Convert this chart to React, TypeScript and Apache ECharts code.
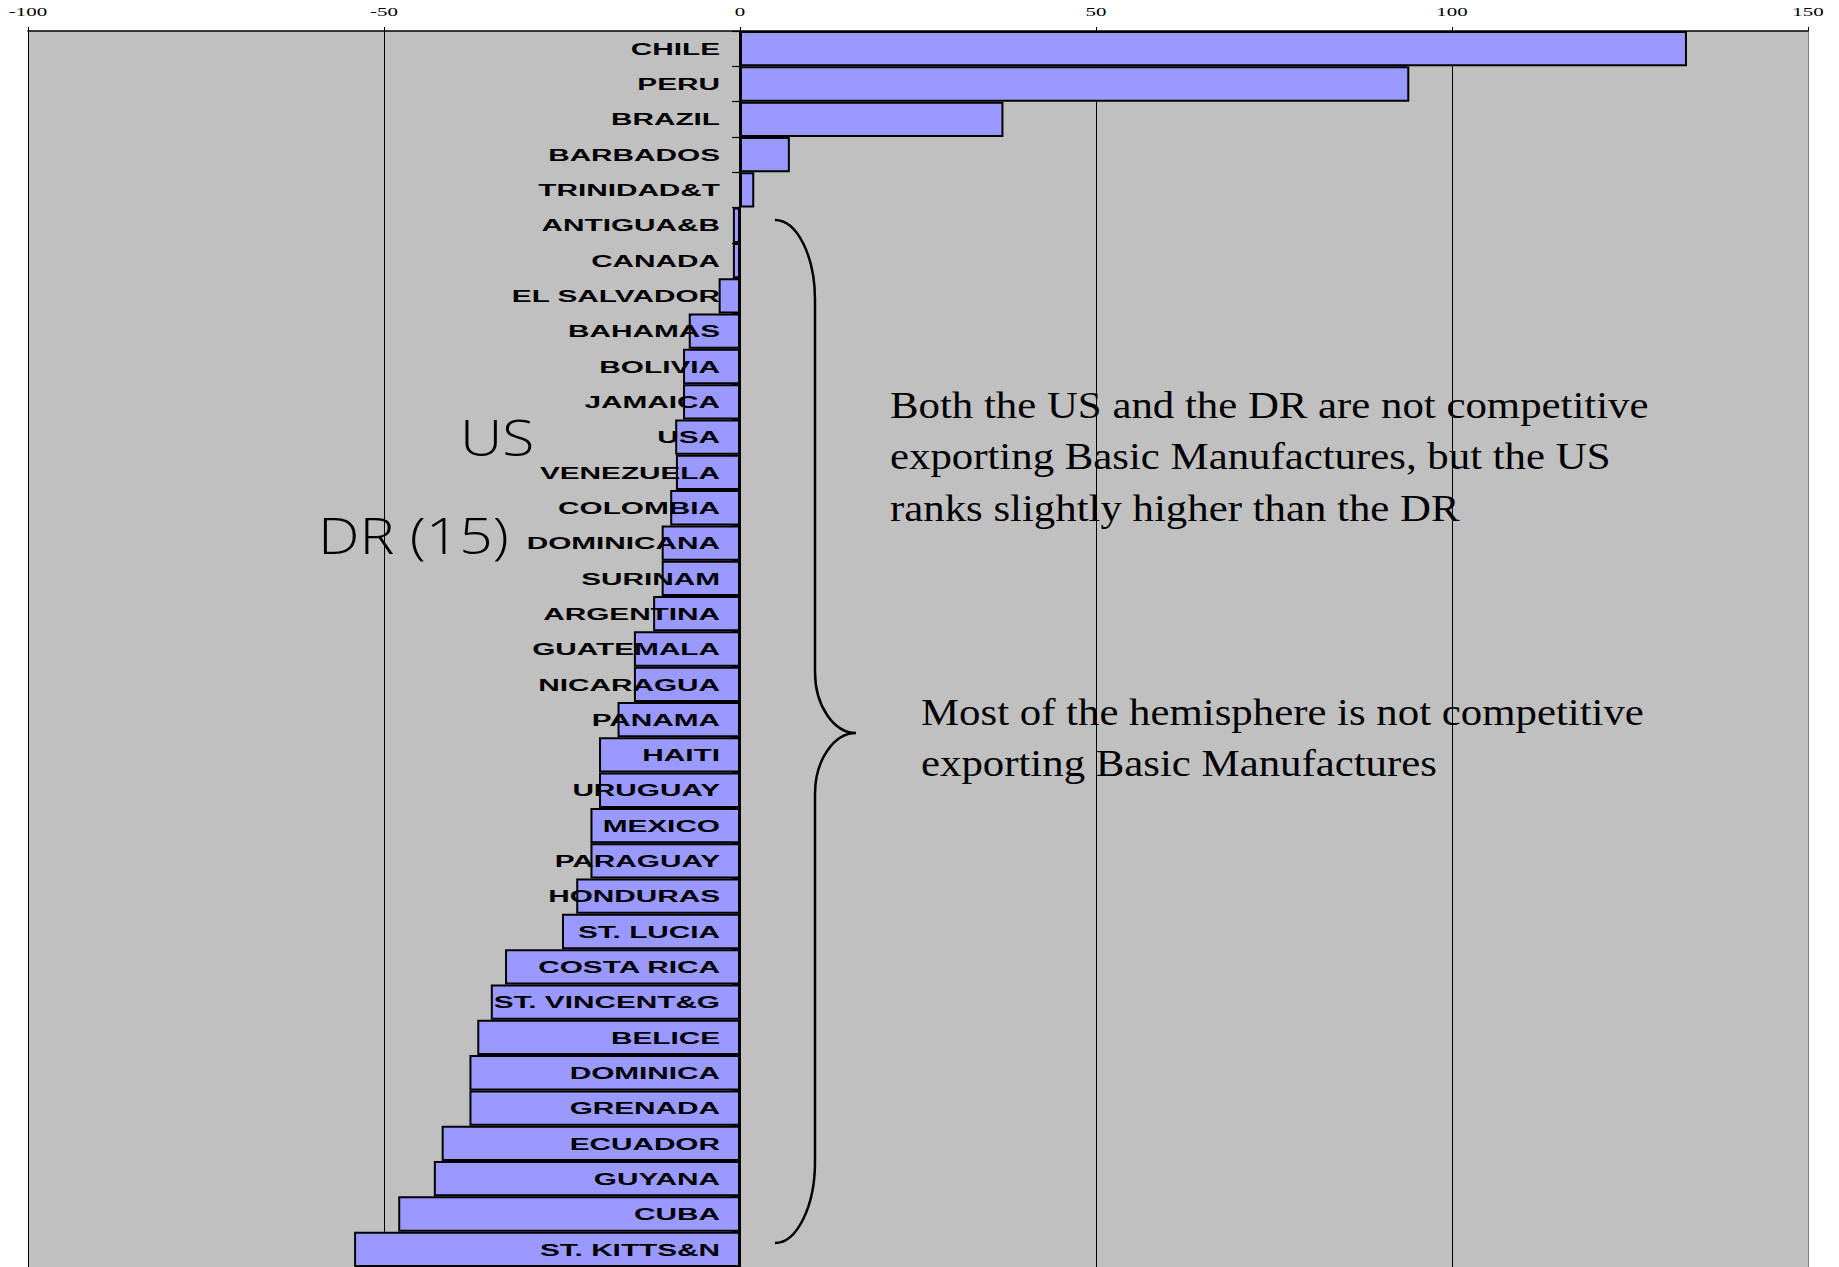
import React, { useEffect, useRef } from 'react';
import * as echarts from 'echarts';

const categories = ['CHILE', 'PERU', 'BRAZIL', 'BARBADOS', 'TRINIDAD&T', 'ANTIGUA&B', 'CANADA', 'EL SALVADOR', 'BAHAMAS', 'BOLIVIA', 'JAMAICA', 'USA', 'VENEZUELA', 'COLOMBIA', 'DOMINICANA', 'SURINAM', 'ARGENTINA', 'GUATEMALA', 'NICARAGUA', 'PANAMA', 'HAITI', 'URUGUAY', 'MEXICO', 'PARAGUAY', 'HONDURAS', 'ST. LUCIA', 'COSTA RICA', 'ST. VINCENT&G', 'BELICE', 'DOMINICA', 'GRENADA', 'ECUADOR', 'GUYANA', 'CUBA', 'ST. KITTS&N'];
const values = [133, 94, 37, 7, 2, -1, -1, -3, -7.2, -8, -8, -9.1, -9, -9.8, -11, -11, -12.2, -14.9, -14.9, -17.2, -19.8, -19.8, -21, -21, -23, -25, -33, -35, -36.9, -38, -38, -41.9, -43, -48, -54.2];
const xTicks = [-100, -50, 0, 50, 100, 150];
const noteUS = 'US';
const noteDR = 'DR (15)';
const note1Lines = ['Both the US and the DR are not competitive', 'exporting Basic Manufactures, but the US', 'ranks slightly higher than the DR'];
const note2Lines = ['Most of the hemisphere is not competitive', 'exporting Basic Manufactures'];

const braceD = 'M775,220 C797,220 815,256 815,300 L815,672 C815,706 834,733 856,733 C834,733 815,760 815,794 L815,1162 C815,1206 797,1243 775,1243';
echarts.graphic.registerShape('brace', echarts.graphic.extendPath(braceD, {}));

function txt(text: string, x: number, y: number, font: string, scaleX: number, align: string) {
  return {
    type: 'text',
    x,
    y,
    scaleX,
    z: 100,
    silent: true,
    style: {
      text,
      font,
      fill: '#000',
      align,
      verticalAlign: 'middle',
      textAlign: align,
      textVerticalAlign: 'middle',
    },
  };
}

export default function App() {
  const ref = useRef<HTMLDivElement>(null);
  useEffect(() => {
    const chart = echarts.init(ref.current!, null, { renderer: 'svg' });
    chart.setOption({
      animation: false,
      backgroundColor: '#ffffff',
      grid: {
        left: 28,
        top: 31,
        width: 1780,
        height: 1237.6,
        containLabel: false,
        show: true,
        backgroundColor: '#C0C0C0',
        borderWidth: 0,
      },
      xAxis: {
        type: 'value',
        position: 'top',
        min: -100,
        max: 150,
        interval: 50,
        axisLine: { show: true, onZero: false, lineStyle: { color: '#000', width: 1.5 } },
        axisTick: { show: true, length: 4, lineStyle: { color: '#000', width: 1 } },
        axisLabel: { show: false },
        splitLine: {
          show: true,
          showMinLine: true,
          showMaxLine: true,
          lineStyle: { color: ['#000', '#000', '#000', '#000', '#000', '#808080'], width: 1 },
        },
      },
      yAxis: {
        type: 'category',
        data: categories,
        inverse: true,
        axisLine: { show: true, onZero: true, lineStyle: { color: '#000', width: 2 } },
        axisTick: { show: true, length: 8, inside: false, lineStyle: { color: '#000', width: 1.2 } },
        axisLabel: { show: false },
        splitLine: { show: false },
      },
      series: [
        {
          type: 'bar',
          data: values,
          barCategoryGap: '0%',
          itemStyle: { color: '#9999FF', borderColor: '#000', borderWidth: 2 },
          z: 2,
        },
      ],
    });

    const zeroX = chart.convertToPixel({ xAxisIndex: 0 }, 0) as number;
    const graphics: any[] = [];
    categories.forEach((c) => {
      const y = chart.convertToPixel({ yAxisIndex: 0 }, c) as number;
      graphics.push(txt(c, zeroX - 20, y + 0.5, 'bold 16px "Liberation Sans"', 1.86, 'right'));
    });
    xTicks.forEach((v) => {
      const x = chart.convertToPixel({ xAxisIndex: 0 }, v) as number;
      graphics.push(txt(String(v), x, 12, '12px "Liberation Serif"', 1.75, 'center'));
    });
    graphics.push(txt(noteUS, 460, 437, '300 49px "Open Sans"', 1.2, 'left'));
    graphics.push(txt(noteDR, 318, 535, '300 49px "Open Sans"', 1.2, 'left'));
    note1Lines.forEach((l, i) => {
      graphics.push(txt(l, 890, 405 + i * 51.5, '38px "Liberation Serif"', 1.127, 'left'));
    });
    note2Lines.forEach((l, i) => {
      graphics.push(txt(l, 921, 712 + i * 51.5, '38px "Liberation Serif"', 1.127, 'left'));
    });
    graphics.push({
      type: 'brace',
      x: 0,
      y: 0,
      z: 100,
      silent: true,
      style: { fill: 'none', stroke: '#000', lineWidth: 2.5 },
    });
    chart.setOption({ graphic: { elements: graphics } });

    return () => chart.dispose();
  }, []);
  return (
    <div
      ref={ref}
      style={{ position: 'fixed', left: 0, top: 0, width: 1839, height: 1267, background: '#fff' }}
    />
  );
}
